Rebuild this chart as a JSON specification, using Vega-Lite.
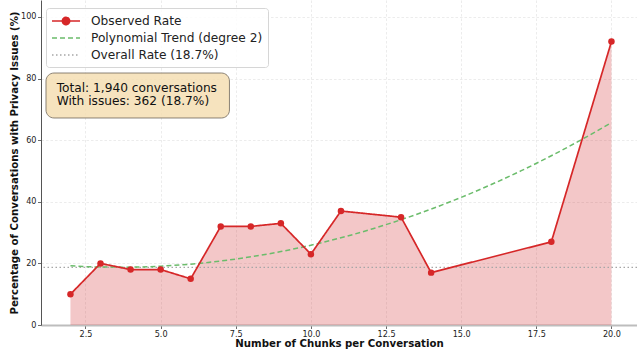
{
  "$schema": "https://vega.github.io/schema/vega-lite/v6.json",
  "width": 596,
  "height": 325,
  "autosize": {"type": "none"},
  "padding": {"left": 41, "top": 0, "right": 0, "bottom": 25},
  "background": "white",
  "config": {
    "view": {"stroke": null},
    "font": "DejaVu Sans",
    "axis": {
      "labelFont": "DejaVu Sans",
      "labelFontSize": 8.1,
      "labelColor": "#222",
      "tickColor": "#444",
      "tickSize": 3.5,
      "tickWidth": 0.8,
      "labelPadding": 1.5,
      "gridColor": "#e4e4e4",
      "gridDash": [2.5, 2],
      "gridWidth": 0.7,
      "titleFont": "DejaVu Sans",
      "titleFontSize": 10.2,
      "titleFontWeight": "bold",
      "titleColor": "#111"
    }
  },
  "datasets": {
    "observed": [
      {"chunks": 2, "rate": 10, "series": "Observed Rate"},
      {"chunks": 3, "rate": 20, "series": "Observed Rate"},
      {"chunks": 4, "rate": 18, "series": "Observed Rate"},
      {"chunks": 5, "rate": 18, "series": "Observed Rate"},
      {"chunks": 6, "rate": 15, "series": "Observed Rate"},
      {"chunks": 7, "rate": 32, "series": "Observed Rate"},
      {"chunks": 8, "rate": 32, "series": "Observed Rate"},
      {"chunks": 9, "rate": 33, "series": "Observed Rate"},
      {"chunks": 10, "rate": 23, "series": "Observed Rate"},
      {"chunks": 11, "rate": 37, "series": "Observed Rate"},
      {"chunks": 13, "rate": 35, "series": "Observed Rate"},
      {"chunks": 14, "rate": 17, "series": "Observed Rate"},
      {"chunks": 18, "rate": 27, "series": "Observed Rate"},
      {"chunks": 20, "rate": 92, "series": "Observed Rate"}
    ],
    "trend": [
      {"chunks": 2, "rate": 19.2, "series": "Polynomial Trend (degree 2)"},
      {"chunks": 3, "rate": 18.82, "series": "Polynomial Trend (degree 2)"},
      {"chunks": 4, "rate": 18.78, "series": "Polynomial Trend (degree 2)"},
      {"chunks": 5, "rate": 19.1, "series": "Polynomial Trend (degree 2)"},
      {"chunks": 6, "rate": 19.76, "series": "Polynomial Trend (degree 2)"},
      {"chunks": 7, "rate": 20.77, "series": "Polynomial Trend (degree 2)"},
      {"chunks": 8, "rate": 22.13, "series": "Polynomial Trend (degree 2)"},
      {"chunks": 9, "rate": 23.84, "series": "Polynomial Trend (degree 2)"},
      {"chunks": 10, "rate": 25.9, "series": "Polynomial Trend (degree 2)"},
      {"chunks": 11, "rate": 28.31, "series": "Polynomial Trend (degree 2)"},
      {"chunks": 12, "rate": 31.07, "series": "Polynomial Trend (degree 2)"},
      {"chunks": 13, "rate": 34.18, "series": "Polynomial Trend (degree 2)"},
      {"chunks": 14, "rate": 37.63, "series": "Polynomial Trend (degree 2)"},
      {"chunks": 15, "rate": 41.43, "series": "Polynomial Trend (degree 2)"},
      {"chunks": 16, "rate": 45.59, "series": "Polynomial Trend (degree 2)"},
      {"chunks": 17, "rate": 50.09, "series": "Polynomial Trend (degree 2)"},
      {"chunks": 18, "rate": 54.95, "series": "Polynomial Trend (degree 2)"},
      {"chunks": 19, "rate": 60.15, "series": "Polynomial Trend (degree 2)"},
      {"chunks": 20, "rate": 65.7, "series": "Polynomial Trend (degree 2)"}
    ],
    "overall": [
      {"rate": 18.7, "series": "Overall Rate (18.7%)"}
    ]
  },
  "layer": [
    {
      "data": {"name": "observed"},
      "mark": {"type": "area", "color": "#d0282a", "opacity": 0.26},
      "encoding": {
        "x": {
          "field": "chunks",
          "type": "quantitative",
          "scale": {"domain": [1.02, 20.85], "nice": false, "zero": false},
          "axis": {
            "title": "Number of Chunks per Conversation",
            "values": [2.5, 5, 7.5, 10, 12.5, 15, 17.5, 20],
            "format": ".1f",
            "domainColor": "#bdbdbd",
            "domainWidth": 2,
            "titleBaseline": "alphabetic",
            "titleY": 21.5
          }
        },
        "y": {
          "field": "rate",
          "type": "quantitative",
          "scale": {"domain": [0, 105.5], "nice": false},
          "axis": {
            "title": "Percentage of Conversations with Privacy Issues (%)",
            "values": [0, 20, 40, 60, 80, 100],
            "domainColor": "#555",
            "domainWidth": 1,
            "titlePadding": 1.5
          }
        }
      }
    },
    {
      "data": {"name": "overall"},
      "mark": {"type": "rule", "strokeWidth": 1.3},
      "encoding": {
        "y": {"field": "rate", "type": "quantitative"},
        "color": {"field": "series", "type": "nominal"},
        "strokeDash": {"field": "series", "type": "nominal"}
      }
    },
    {
      "data": {"name": "trend"},
      "mark": {"type": "line", "strokeWidth": 1.5, "interpolate": "monotone"},
      "encoding": {
        "x": {"field": "chunks", "type": "quantitative"},
        "y": {"field": "rate", "type": "quantitative"},
        "color": {"field": "series", "type": "nominal"},
        "strokeDash": {"field": "series", "type": "nominal"}
      }
    },
    {
      "data": {"name": "observed"},
      "mark": {"type": "line", "strokeWidth": 1.7},
      "encoding": {
        "x": {"field": "chunks", "type": "quantitative"},
        "y": {"field": "rate", "type": "quantitative"},
        "color": {
          "field": "series",
          "type": "nominal",
          "scale": {
            "domain": ["Observed Rate", "Polynomial Trend (degree 2)", "Overall Rate (18.7%)"],
            "range": ["#d62728", "#6bbc6b", "#a6a6a6"]
          },
          "legend": {
            "title": null,
            "orient": "none",
            "legendX": 5,
            "legendY": 8,
            "symbolType": "stroke",
            "symbolSize": 196,
            "symbolStrokeWidth": 1.6,
            "labelFont": "DejaVu Sans",
            "labelFontSize": 12.2,
            "labelColor": "#222",
            "labelLimit": 400,
            "labelOffset": 24,
            "rowPadding": 2,
            "padding": 5,
            "fillColor": "rgba(255,255,255,0.85)",
            "strokeColor": "#d6d6d6",
            "cornerRadius": 3,
            "encode": {
              "symbols": {
                "update": {
                  "shape": {"signal": "datum.value === 'Observed Rate' ? 'M-1,0L3,0M0.48,0A0.52,0.52,0,1,0,1.52,0A0.52,0.52,0,1,0,0.48,0Z' : 'M-1,0L3,0'"},
                  "fill": {"signal": "datum.value === 'Observed Rate' ? '#d62728' : 'transparent'"}
                }
              }
            }
          }
        },
        "strokeDash": {
          "field": "series",
          "type": "nominal",
          "scale": {
            "domain": ["Observed Rate", "Polynomial Trend (degree 2)", "Overall Rate (18.7%)"],
            "range": [[1, 0], [5, 3], [1.5, 2.5]]
          },
          "legend": null
        }
      }
    },
    {
      "data": {"name": "observed"},
      "mark": {"type": "point", "filled": true, "color": "#d62728", "opacity": 1, "size": 42},
      "encoding": {
        "x": {"field": "chunks", "type": "quantitative"},
        "y": {"field": "rate", "type": "quantitative"}
      }
    },
    {
      "data": {"values": [{}]},
      "mark": {"type": "rect", "fill": "#f5deb3", "fillOpacity": 0.85, "stroke": "#6e6659", "strokeWidth": 0.8, "cornerRadius": 8},
      "encoding": {
        "x": {"datum": 1.186, "type": "quantitative"},
        "x2": {"datum": 7.29},
        "y": {"datum": 81.8, "type": "quantitative"},
        "y2": {"datum": 67.2}
      }
    },
    {
      "data": {"values": [{}]},
      "mark": {
        "type": "text",
        "text": ["Total: 1,940 conversations", "With issues: 362 (18.7%)"],
        "font": "DejaVu Sans",
        "fontSize": 12.2,
        "color": "#111",
        "align": "left",
        "baseline": "alphabetic",
        "lineHeight": 13.4
      },
      "encoding": {
        "x": {"datum": 1.54, "type": "quantitative"},
        "y": {"datum": 75.6, "type": "quantitative"}
      }
    }
  ]
}
